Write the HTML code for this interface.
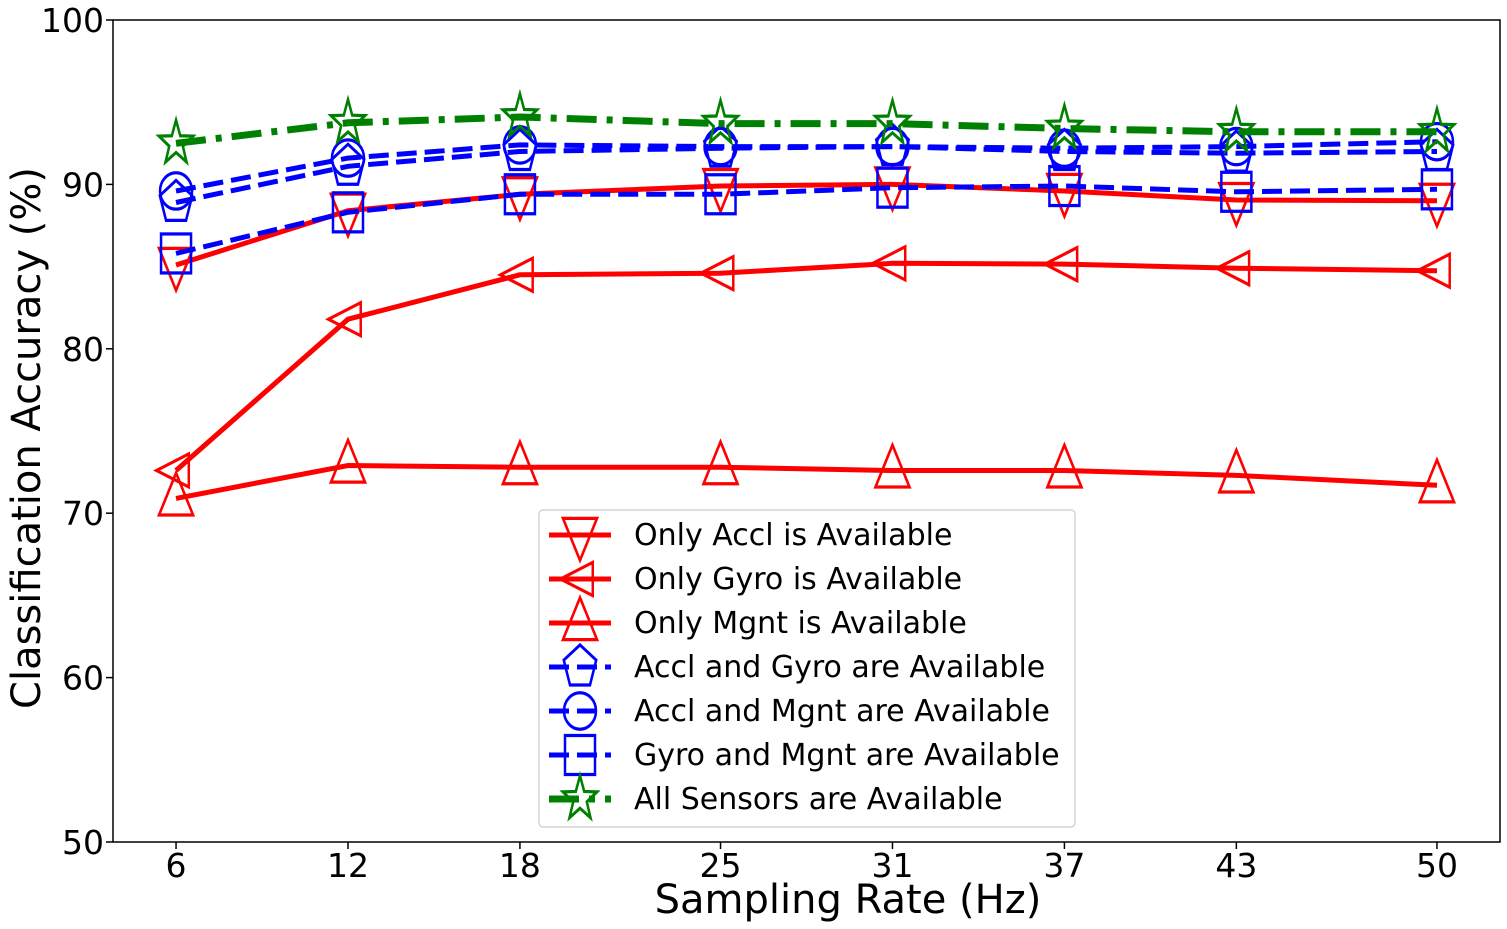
<!DOCTYPE html>
<html><head><meta charset="utf-8"><style>
html,body{margin:0;padding:0;background:#fff;}
svg{display:block;font-family:"DejaVu Sans","Liberation Sans",sans-serif;}
</style></head><body>
<svg id="chart" width="1507" height="929" viewBox="0 0 1507 929" xmlns="http://www.w3.org/2000/svg">
<rect x="113" y="20" width="1387" height="822" fill="#fff" stroke="#000" stroke-width="1.5"/>
<g id="ticks"></g>
<g id="series"></g>
<text x="848" y="913" font-size="40" text-anchor="middle">Sampling Rate (Hz)</text>
<text transform="translate(40,438) rotate(-90)" font-size="40" text-anchor="middle">Classification Accuracy (%)</text>
<g id="legend"></g>
</svg>
<script>
const categories = [6, 12, 18, 25, 31, 37, 43, 50];
const yTicks = [50, 60, 70, 80, 90, 100];
const seriesNames = ["Only Accl is Available","Only Gyro is Available","Only Mgnt is Available","Accl and Gyro are Available","Accl and Mgnt are Available","Gyro and Mgnt are Available","All Sensors are Available"];
const accl = [85.1, 88.4, 89.4, 89.9, 90.0, 89.6, 89.05, 89.0];
const gyro = [72.6, 81.8, 84.5, 84.6, 85.2, 85.15, 84.9, 84.75];
const mgnt = [70.9, 72.9, 72.8, 72.8, 72.6, 72.6, 72.3, 71.7];
const acclGyro = [88.9, 91.1, 92.0, 92.2, 92.3, 92.0, 91.9, 92.0];
const acclMgnt = [89.6, 91.6, 92.4, 92.3, 92.3, 92.2, 92.3, 92.6];
const gyroMgnt = [85.8, 88.3, 89.4, 89.4, 89.8, 89.9, 89.55, 89.7];
const allSensors = [92.5, 93.75, 94.1, 93.7, 93.7, 93.4, 93.2, 93.2];

const NS = "http://www.w3.org/2000/svg";
const X0 = 113, X1 = 1500, Y0 = 842, Y1 = 20;
const xMin = 3.8, xMax = 52.2, yMin = 50, yMax = 100;
function xs(v){ return X0 + (v - xMin) / (xMax - xMin) * (X1 - X0); }
function ys(v){ return Y0 - (v - yMin) / (yMax - yMin) * (Y0 - Y1); }
function mk(tag, attrs, parent){ const e = document.createElementNS(NS, tag); for (const k in attrs) e.setAttribute(k, attrs[k]); parent.appendChild(e); return e; }

const ticks = document.getElementById('ticks');
yTicks.forEach(t => {
  const y = ys(t);
  const l = mk('line', {x1: X0-7, x2: X0, y1: y, y2: y, stroke: '#000', 'stroke-width': 1.5}, ticks);
  
  
  const tx = mk('text', {x: X0-9, y: y+12, 'font-size': 33, 'text-anchor': 'end'}, ticks);
  tx.textContent = t;
  
  
});
categories.forEach(c => {
  const x = xs(c);
  const l = mk('line', {x1: x, x2: x, y1: Y0, y2: Y0+7, stroke: '#000', 'stroke-width': 1.5}, ticks);
  
  
  const tx = mk('text', {x: x, y: Y0+35, 'font-size': 33, 'text-anchor': 'middle'}, ticks);
  tx.textContent = c;
  
  
});

function marker(type, cx, cy, color, parent){
  const g = mk('g', {transform: `translate(${cx},${cy}) scale(1,1.3)`, fill: 'none', stroke: color, 'stroke-width': 3}, parent);
  const s = 17;
  if (type === 'v') mk('path', {d: `M${-s},${-s*0.75} L${s},${-s*0.75} L0,${s*1.15} Z`, 'stroke-width': 2.5}, g);
  else if (type === '^') mk('path', {d: `M${-s},${s*0.75} L${s},${s*0.75} L0,${-s*1.15} Z`, 'stroke-width': 2.5}, g);
  else if (type === '<') mk('path', {d: `M${s*0.75},${-s*0.75} L${s*0.75},${s*0.75} L${-s*1.15},0 Z`, 'stroke-width': 2.5}, g);
  else if (type === 'p') { let p=[]; for(let i=0;i<5;i++){const a=-Math.PI/2+i*2*Math.PI/5; p.push((s*Math.cos(a)).toFixed(1)+','+(s*Math.sin(a)).toFixed(1));} mk('polygon', {points: p.join(' '), 'stroke-width': 2.5}, g); }
  else if (type === 'o') mk('ellipse', {cx: 0, cy: 0, rx: 16, ry: 14, 'stroke-width': 2.5}, g);
  else if (type === 's') mk('rect', {x: -15, y: -15, width: 30, height: 30, 'stroke-width': 2.5}, g);
  else if (type === '*') { let p=[]; for(let i=0;i<10;i++){const a=-Math.PI/2+i*Math.PI/5; const r=i%2?s*0.42:s*1.05; p.push((r*Math.cos(a)).toFixed(1)+','+(r*Math.sin(a)).toFixed(1));} mk('polygon', {points: p.join(' '), 'stroke-width': 2.5}, g); }
  return g;
}

const cfg = [
  {data: accl, color: '#ff0000', dash: '', m: 'v', name: 'series-only-accl'},
  {data: gyro, color: '#ff0000', dash: '', m: '<', name: 'series-only-gyro'},
  {data: mgnt, color: '#ff0000', dash: '', m: '^', name: 'series-only-mgnt'},
  {data: acclGyro, color: '#0000ff', dash: '20,8', m: 'p', name: 'series-accl-gyro'},
  {data: acclMgnt, color: '#0000ff', dash: '20,8', m: 'o', name: 'series-accl-mgnt'},
  {data: gyroMgnt, color: '#0000ff', dash: '20,8', m: 's', name: 'series-gyro-mgnt'},
  {data: allSensors, color: '#008000', dash: '30,10,6,10', m: '*', name: 'series-all-sensors'}
];
const sg = document.getElementById('series');
cfg.forEach(c => {
  const g = mk('g', {}, sg);
  
  
  const pts = c.data.map((v,i) => xs(categories[i]).toFixed(1)+','+ys(v).toFixed(1)).join(' ');
  const pl = mk('polyline', {points: pts, fill: 'none', stroke: c.color, 'stroke-width': c.m==='*'?7:5, 'stroke-dasharray': c.dash}, g);
  
  
  c.data.forEach((v,i) => {
    const m = marker(c.m, xs(categories[i]), ys(v), c.color, g);
    
    
  });
});

const lg = document.getElementById('legend');
const box = mk('rect', {x: 539, y: 510, width: 536, height: 317, rx: 4, fill: '#fff', 'fill-opacity': 0.85, stroke: '#ccc', 'stroke-width': 1.2}, lg);


cfg.forEach((c, i) => {
  const y = 535 + i * 44;
  const g = mk('g', {}, lg);
  
  
  mk('line', {x1: 549, x2: 611, y1: y, y2: y, stroke: c.color, 'stroke-width': c.m==='*'?7:5, 'stroke-dasharray': c.dash}, g);
  marker(c.m, 580, y, c.color, g);
  const t = mk('text', {x: 634, y: y + 10, 'font-size': 30}, g);
  t.textContent = seriesNames[i];
  
  
});
</script>
</body></html>
